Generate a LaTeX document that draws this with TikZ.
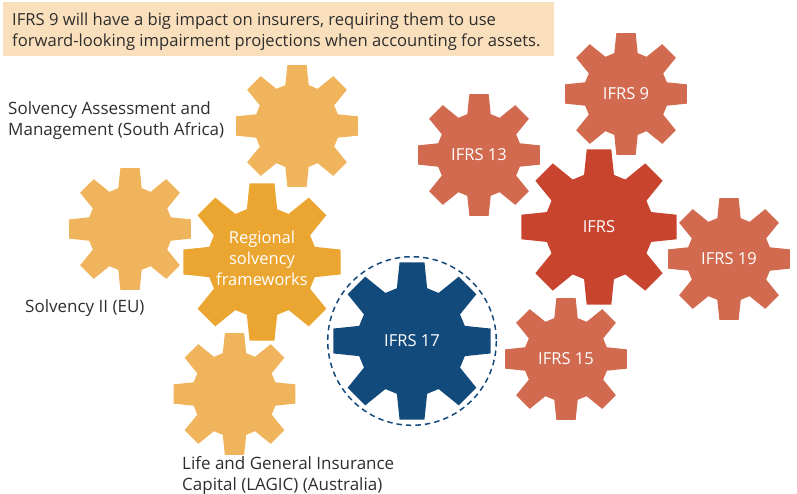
\documentclass[tikz,border=0pt]{standalone}
\usepackage{fontspec}
\setmainfont{Open Sans}
\definecolor{boxtan}{HTML}{FADFBC}
\definecolor{inktext}{HTML}{2E2E2E}
\definecolor{navygear}{HTML}{134A7C}
\definecolor{ambergear}{HTML}{EBA631}
\definecolor{lightgear}{HTML}{F0B55C}
\definecolor{redgear}{HTML}{C8442F}
\definecolor{coralgear}{HTML}{D26A50}
\tikzset{
	gearlabel/.style={text=white, font=\fontsize{16.5}{21}\selectfont, align=center, inner sep=0pt},
	notelabel/.style={text=inktext, font=\fontsize{16.6}{21}\selectfont, align=left, anchor=west, inner sep=0pt},
	sidelabel/.style={notelabel, font=\fontsize{17}{21}\selectfont},
}
\def\gear[#1](#2)(#3,#4)(#5)#6{
	\fill[#1, shift={(#3,#4)}] (-16:{0.69*#5})
		\foreach \a in {0,45,...,315} {
			-- ({\a-16}:{0.69*#5}) -- ({\a-9}:#5) -- ({\a+9}:#5) -- ({\a+16}:{0.69*#5})
		} -- cycle;
	\node[gearlabel] (#2) at (#3,#4) {#6};
}
\begin{document}
\begin{tikzpicture}[x=1pt,y=-1pt]
	\useasboundingbox (0,0) rectangle (797,494);

	\fill[boxtan] (3,2) rectangle (554,56);
	\node[notelabel] (note) at (12,32) {IFRS 9 will have a big impact on insurers, requiring them to use\\forward-looking impairment projections when accounting for assets.};

	% left group
	\gear[lightgear](sam)(297,126)(61.6){}
	\gear[lightgear](solvency)(130,229)(61.6){}
	\gear[lightgear](lagic)(234.5,394)(61.6){}
	\gear[ambergear](regionalgear)(262,262)(79.6){}
	\node[gearlabel] (regional) at (262,258) {Regional\\solvency\\frameworks};

	% middle
	\gear[navygear](ifrsseventeen)(412,341)(79.6){IFRS 17}
	\draw[navygear, line width=1.5pt, dash pattern=on 5.5pt off 4pt] (412,341) circle (84.3);

	% right group
	\gear[coralgear](ifrsthirteen)(479,155)(61.6){IFRS 13}
	\gear[coralgear](ifrsnine)(626,94)(61.6){IFRS 9}
	\gear[coralgear](ifrsnineteen)(729,259)(61.6){IFRS 19}
	\gear[coralgear](ifrsfifteen)(566,359)(61.6){IFRS 15}
	\gear[redgear](ifrs)(599,227)(78.6){IFRS}

	\node[sidelabel] (samlabel) at (8,121) {Solvency Assessment and\\Management (South Africa)};
	\node[sidelabel] (solvencylabel) at (25,308) {Solvency II (EU)};
	\node[sidelabel] (lagiclabel) at (182,475.5) {Life and General Insurance\\Capital (LAGIC) (Australia)};
\end{tikzpicture}
\end{document}
